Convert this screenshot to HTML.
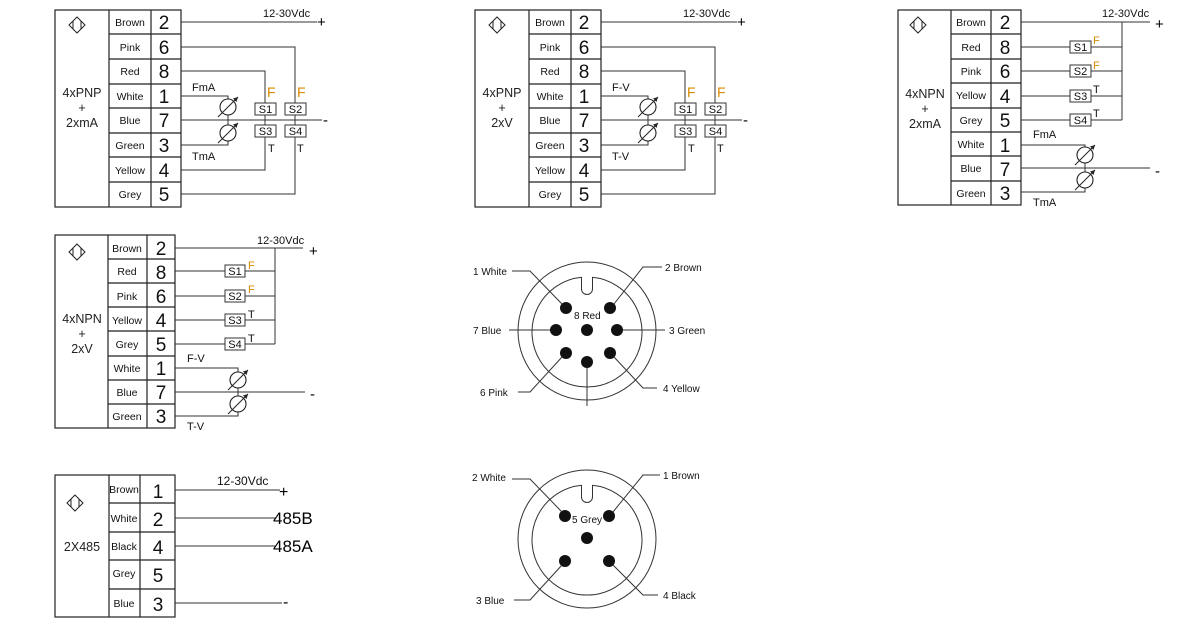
<!DOCTYPE html>
<html><head><meta charset="utf-8"><style>
html,body{margin:0;padding:0;background:#fff;}
svg{display:block;font-family:"Liberation Sans",sans-serif;}
.b{fill:none;stroke:#222;stroke-width:1.2}
.w{fill:none;stroke:#333;stroke-width:1}
.c{font-size:10.5px;text-anchor:middle;fill:#111}
.n{font-size:19px;text-anchor:middle;fill:#111}
.t{font-size:11px;fill:#111}
.m{font-size:12.5px;fill:#222;text-anchor:middle}
.o{fill:#d88a00}
.s{font-size:11px;text-anchor:middle;fill:#111}
.F{font-size:14px;fill:#d88a00}
</style></head><body>
<svg width="1202" height="633" viewBox="0 0 1202 633" xmlns="http://www.w3.org/2000/svg">
<defs>
<g id="meter"><circle cx="0" cy="0" r="8" fill="#fff" stroke="#222" stroke-width="1.1"/><line x1="-10" y1="10" x2="10" y2="-10" stroke="#222" stroke-width="1"/><path d="M10,-10 L5,-8.5 L8.5,-5 Z" fill="#222"/></g>
<g id="sym"><path d="M0,-8 L8,0 L0,8 L-8,0 Z M-4,-4 L-4,4 M4,-4 L4,4" fill="none" stroke="#222" stroke-width="1"/></g>
</defs>

<!-- Block 1 and 2 -->
<g id="blk1">
<rect x="55" y="10" width="126" height="197" class="b"/>
<line x1="109" y1="10" x2="109" y2="207" class="b"/>
<line x1="151" y1="10" x2="151" y2="207" class="b"/>
<path d="M109,34H181M109,59H181M109,84H181M109,108H181M109,133H181M109,157H181M109,182H181" class="b"/>
<use href="#sym" x="77" y="25"/>
<path d="M181,22H317 M181,47H295V103 M295,115V125 M295,137V194H181 M181,71H265V103 M265,115V125 M265,137V170H181 M181,120H322 M181,96H228V99 M181,145H228V141 M228,115V125" class="w"/>
<rect x="255" y="103" width="21" height="12" class="w" fill="#fff"/>
<rect x="285" y="103" width="21" height="12" class="w" fill="#fff"/>
<rect x="255" y="125" width="21" height="12" class="w" fill="#fff"/>
<rect x="285" y="125" width="21" height="12" class="w" fill="#fff"/>
<text x="265.5" y="113" class="s">S1</text><text x="295.5" y="113" class="s">S2</text>
<text x="265.5" y="135" class="s">S3</text><text x="295.5" y="135" class="s">S4</text>
<use href="#meter" x="228" y="107"/><use href="#meter" x="228" y="133"/>
<text x="297" y="97" class="F">F</text>
<text x="268" y="152" class="t">T</text><text x="297" y="152" class="t">T</text>
</g>
<text x="82" y="97" class="m">4xPNP</text>
<text x="82" y="112" class="m">+</text>
<text x="82" y="127" class="m">2xmA</text>
<text x="267" y="97" class="F">F</text>
<text x="263" y="17" class="t">12-30Vdc</text>
<text x="317" y="27" font-size="15">+</text>
<text x="323" y="125" font-size="15">-</text>
<text x="192" y="91" class="t">FmA</text>
<text x="192" y="160" class="t">TmA</text>
<g>
<text x="130" y="26" class="c">Brown</text><text x="130" y="51" class="c">Pink</text><text x="130" y="75" class="c">Red</text><text x="130" y="100" class="c">White</text><text x="130" y="124" class="c">Blue</text><text x="130" y="149" class="c">Green</text><text x="130" y="174" class="c">Yellow</text><text x="130" y="198" class="c">Grey</text>
<text x="164" y="29" class="n">2</text><text x="164" y="54" class="n">6</text><text x="164" y="78" class="n">8</text><text x="164" y="103" class="n">1</text><text x="164" y="127" class="n">7</text><text x="164" y="152" class="n">3</text><text x="164" y="177" class="n">4</text><text x="164" y="201" class="n">5</text>
</g>

<use href="#blk1" x="420" y="0"/>
<text x="502" y="97" class="m">4xPNP</text>
<text x="502" y="112" class="m">+</text>
<text x="502" y="127" class="m">2xV</text>
<text x="687" y="97" class="F">F</text>
<text x="683" y="17" class="t">12-30Vdc</text>
<text x="737" y="27" font-size="15">+</text>
<text x="743" y="125" font-size="15">-</text>
<text x="612" y="91" class="t">F-V</text>
<text x="612" y="160" class="t">T-V</text>
<g>
<text x="550" y="26" class="c">Brown</text><text x="550" y="51" class="c">Pink</text><text x="550" y="75" class="c">Red</text><text x="550" y="100" class="c">White</text><text x="550" y="124" class="c">Blue</text><text x="550" y="149" class="c">Green</text><text x="550" y="174" class="c">Yellow</text><text x="550" y="198" class="c">Grey</text>
<text x="584" y="29" class="n">2</text><text x="584" y="54" class="n">6</text><text x="584" y="78" class="n">8</text><text x="584" y="103" class="n">1</text><text x="584" y="127" class="n">7</text><text x="584" y="152" class="n">3</text><text x="584" y="177" class="n">4</text><text x="584" y="201" class="n">5</text>
</g>

<!-- Block 3: 4xNPN 2xmA -->
<g>
<rect x="898" y="10" width="123" height="195" class="b"/>
<line x1="951" y1="10" x2="951" y2="205" class="b"/>
<line x1="991" y1="10" x2="991" y2="205" class="b"/>
<path d="M951,34H1021M951,59H1021M951,83H1021M951,108H1021M951,132H1021M951,156H1021M951,181H1021" class="b"/>
<use href="#sym" x="918" y="25"/>
<path d="M1021,22H1150 M1122,22V120 M1021,47H1070 M1091,47H1122 M1021,71H1070 M1091,71H1122 M1021,96H1070 M1091,96H1122 M1021,120H1070 M1091,120H1122 M1021,145H1085V147 M1021,192H1085V188 M1021,168H1150 M1085,163V172" class="w"/>
<rect x="1070" y="41" width="21" height="12" class="w" fill="#fff"/><text x="1080.5" y="51" class="s">S1</text>
<rect x="1070" y="65" width="21" height="12" class="w" fill="#fff"/><text x="1080.5" y="75" class="s">S2</text>
<rect x="1070" y="90" width="21" height="12" class="w" fill="#fff"/><text x="1080.5" y="100" class="s">S3</text>
<rect x="1070" y="114" width="21" height="12" class="w" fill="#fff"/><text x="1080.5" y="124" class="s">S4</text>
<text x="1093" y="44" class="t o">F</text><text x="1093" y="69" class="t o">F</text>
<text x="1093" y="93" class="t">T</text><text x="1093" y="117" class="t">T</text>
<use href="#meter" x="1085" y="155"/><use href="#meter" x="1085" y="180"/>
<text x="1102" y="17" class="t">12-30Vdc</text>
<text x="1155" y="29" font-size="15">+</text>
<text x="1155" y="176" font-size="15">-</text>
<text x="1033" y="138" class="t">FmA</text>
<text x="1033" y="206" class="t">TmA</text>
<text x="925" y="98" class="m">4xNPN</text><text x="925" y="113" class="m">+</text><text x="925" y="128" class="m">2xmA</text>
<text x="971" y="26" class="c">Brown</text><text x="971" y="51" class="c">Red</text><text x="971" y="75" class="c">Pink</text><text x="971" y="99" class="c">Yellow</text><text x="971" y="124" class="c">Grey</text><text x="971" y="148" class="c">White</text><text x="971" y="172" class="c">Blue</text><text x="971" y="197" class="c">Green</text>
<text x="1005" y="29" class="n">2</text><text x="1005" y="54" class="n">8</text><text x="1005" y="78" class="n">6</text><text x="1005" y="103" class="n">4</text><text x="1005" y="127" class="n">5</text><text x="1005" y="152" class="n">1</text><text x="1005" y="176" class="n">7</text><text x="1005" y="200" class="n">3</text>
</g>

<!-- Block 4: 4xNPN 2xV -->
<g>
<rect x="55" y="235" width="120" height="193" class="b"/>
<line x1="108" y1="235" x2="108" y2="428" class="b"/>
<line x1="147" y1="235" x2="147" y2="428" class="b"/>
<path d="M108,259H175M108,283H175M108,307H175M108,331H175M108,356H175M108,380H175M108,404H175" class="b"/>
<use href="#sym" x="77" y="252"/>
<path d="M175,248H303 M275,248V344 M175,271H225 M245,271H275 M175,296H225 M245,296H275 M175,320H225 M245,320H275 M175,344H225 M245,344H275 M175,368H238V372 M175,416H238V412 M175,392H305 M238,388V396" class="w"/>
<rect x="225" y="265" width="20" height="12" class="w" fill="#fff"/><text x="235" y="275" class="s">S1</text>
<rect x="225" y="290" width="20" height="12" class="w" fill="#fff"/><text x="235" y="300" class="s">S2</text>
<rect x="225" y="314" width="20" height="12" class="w" fill="#fff"/><text x="235" y="324" class="s">S3</text>
<rect x="225" y="338" width="20" height="12" class="w" fill="#fff"/><text x="235" y="348" class="s">S4</text>
<text x="248" y="269" class="t o">F</text><text x="248" y="293" class="t o">F</text>
<text x="248" y="318" class="t">T</text><text x="248" y="342" class="t">T</text>
<use href="#meter" x="238" y="380"/><use href="#meter" x="238" y="404"/>
<text x="257" y="244" class="t">12-30Vdc</text>
<text x="309" y="256" font-size="15">+</text>
<text x="310" y="399" font-size="15">-</text>
<text x="187" y="362" class="t">F-V</text>
<text x="187" y="430" class="t">T-V</text>
<text x="82" y="323" class="m">4xNPN</text><text x="82" y="338" class="m">+</text><text x="82" y="353" class="m">2xV</text>
<text x="127" y="252" class="c">Brown</text><text x="127" y="275" class="c">Red</text><text x="127" y="300" class="c">Pink</text><text x="127" y="324" class="c">Yellow</text><text x="127" y="348" class="c">Grey</text><text x="127" y="372" class="c">White</text><text x="127" y="396" class="c">Blue</text><text x="127" y="420" class="c">Green</text>
<text x="161" y="255" class="n">2</text><text x="161" y="279" class="n">8</text><text x="161" y="303" class="n">6</text><text x="161" y="327" class="n">4</text><text x="161" y="351" class="n">5</text><text x="161" y="375" class="n">1</text><text x="161" y="399" class="n">7</text><text x="161" y="423" class="n">3</text>
</g>

<!-- Block 5: 2X485 -->
<g>
<rect x="55" y="475" width="120" height="142" class="b"/>
<line x1="109" y1="475" x2="109" y2="617" class="b"/>
<line x1="140" y1="475" x2="140" y2="617" class="b"/>
<path d="M109,503H175M109,532H175M109,560H175M109,589H175" class="b"/>
<use href="#sym" x="75" y="503"/>
<path d="M175,490H280 M175,518H275 M175,546H275 M175,603H282" class="w"/>
<text x="217" y="485" class="t" style="font-size:12px">12-30Vdc</text>
<text x="279" y="497" font-size="16">+</text>
<text x="273" y="524" font-size="17">485B</text>
<text x="273" y="552" font-size="17">485A</text>
<text x="283" y="607" font-size="16">-</text>
<text x="82" y="551" class="m">2X485</text>
<text x="124" y="493" class="c">Brown</text><text x="124" y="522" class="c">White</text><text x="124" y="550" class="c">Black</text><text x="124" y="577" class="c">Grey</text><text x="124" y="607" class="c">Blue</text>
<text x="158" y="498" class="n">1</text><text x="158" y="526" class="n">2</text><text x="158" y="554" class="n">4</text><text x="158" y="582" class="n">5</text><text x="158" y="611" class="n">3</text>
</g>

<!-- Connector 1 -->
<g font-size="10" fill="#111">
<circle cx="587" cy="331" r="69" class="w"/>
<path d="M581.5,277 V289 A5.5,5.5 0 0 0 592.5,289 V277" fill="#fff" stroke="#333" stroke-width="1"/>
<path d="M581.5,277.3 A55,55 0 1 0 592.5,277.3" class="w"/>
<circle cx="566" cy="308" r="6" fill="#111"/><circle cx="610" cy="308" r="6" fill="#111"/>
<circle cx="556" cy="330" r="6" fill="#111"/><circle cx="587" cy="330" r="6" fill="#111"/><circle cx="617" cy="330" r="6" fill="#111"/>
<circle cx="566" cy="353" r="6" fill="#111"/><circle cx="610" cy="353" r="6" fill="#111"/><circle cx="587" cy="362" r="6" fill="#111"/>
<path d="M512,271H530L562,304 M662,267H643L614,304 M509,330H550 M623,330H665 M518,392H530L562,357 M657,388H643L614,357 M587,368V406" class="w"/>
<text x="473" y="275">1 White</text><text x="665" y="271">2 Brown</text>
<text x="473" y="334">7 Blue</text><text x="669" y="334">3 Green</text>
<text x="480" y="396">6 Pink</text><text x="663" y="392">4 Yellow</text>
<text x="574" y="319">8 Red</text>
</g>

<!-- Connector 2 -->
<g font-size="10" fill="#111">
<circle cx="587" cy="539" r="69" class="w"/>
<path d="M581.5,485 V497 A5.5,5.5 0 0 0 592.5,497 V485" fill="#fff" stroke="#333" stroke-width="1"/>
<path d="M581.5,485.3 A55,55 0 1 0 592.5,485.3" class="w"/>
<circle cx="565" cy="516" r="6" fill="#111"/><circle cx="609" cy="516" r="6" fill="#111"/>
<circle cx="587" cy="538" r="6" fill="#111"/>
<circle cx="565" cy="561" r="6" fill="#111"/><circle cx="609" cy="561" r="6" fill="#111"/>
<path d="M512,479H530L562,512 M660,475H643L613,512 M514,600H530L562,565 M658,595H643L613,565" class="w"/>
<text x="472" y="481">2 White</text><text x="663" y="479">1 Brown</text>
<text x="476" y="604">3 Blue</text><text x="663" y="599">4 Black</text>
<text x="572" y="523">5 Grey</text>
</g>
</svg>
</body></html>
